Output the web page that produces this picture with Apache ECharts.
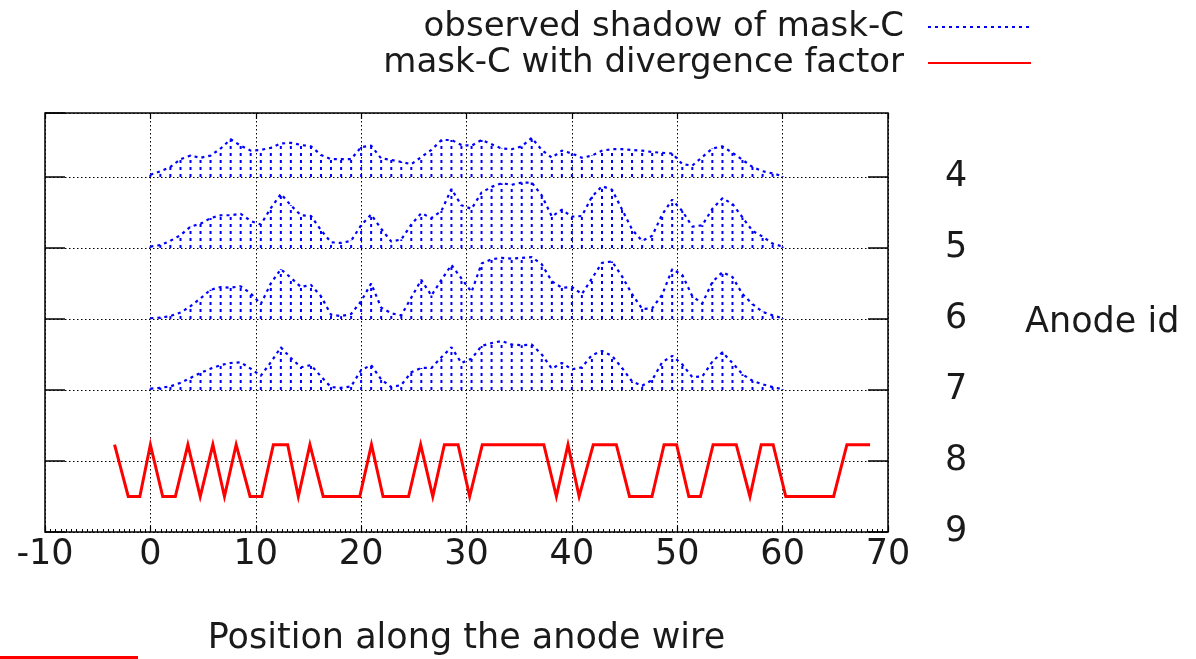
<!DOCTYPE html>
<html>
<head>
<meta charset="utf-8">
<script src="https://cdn.jsdelivr.net/npm/echarts@6/dist/echarts.min.js"></script>
<style>
html,body{margin:0;padding:0;background:#fff;}
#chart{width:1196px;height:659px;}
</style>
</head>
<body>
<div id="chart"></div>
<script>
// Positions along the anode wire of the observed shadow samples
const positions = [0, 0.95, 1.9, 2.86, 3.81, 4.76, 5.71, 6.67, 7.62, 8.57,
  9.52, 10.48, 11.43, 12.38, 13.33, 14.29, 15.24, 16.19, 17.14, 18.1,
  19.05, 20, 20.95, 21.9, 22.86, 23.81, 24.76, 25.71, 26.67, 27.62,
  28.57, 29.52, 30.48, 31.43, 32.38, 33.33, 34.29, 35.24, 36.19, 37.14,
  38.1, 39.05, 40, 40.95, 41.9, 42.86, 43.81, 44.76, 45.71, 46.67,
  47.62, 48.57, 49.52, 50.48, 51.43, 52.38, 53.33, 54.29, 55.24, 56.19,
  57.14, 58.1, 59.05, 60];

// Observed shadow height above each anode's baseline
const anode4 = [0.03, 0.08, 0.14, 0.25, 0.30, 0.27, 0.30, 0.40, 0.53, 0.44,
  0.37, 0.38, 0.41, 0.47, 0.48, 0.45, 0.43, 0.31, 0.25, 0.25,
  0.25, 0.42, 0.44, 0.26, 0.24, 0.21, 0.18, 0.28, 0.38, 0.52,
  0.52, 0.45, 0.44, 0.52, 0.46, 0.40, 0.39, 0.43, 0.55, 0.38,
  0.27, 0.37, 0.33, 0.27, 0.30, 0.37, 0.39, 0.39, 0.38, 0.37,
  0.35, 0.34, 0.33, 0.18, 0.16, 0.28, 0.40, 0.43, 0.34, 0.24,
  0.14, 0.08, 0.05, 0.01];
const anode5 = [0.02, 0.04, 0.10, 0.18, 0.30, 0.34, 0.42, 0.46, 0.46, 0.48,
  0.38, 0.33, 0.56, 0.76, 0.60, 0.46, 0.45, 0.25, 0.08, 0.07,
  0.10, 0.32, 0.47, 0.27, 0.09, 0.12, 0.33, 0.49, 0.42, 0.52,
  0.83, 0.60, 0.55, 0.78, 0.86, 0.91, 0.89, 0.92, 0.92, 0.74,
  0.44, 0.54, 0.44, 0.45, 0.72, 0.87, 0.82, 0.54, 0.26, 0.10,
  0.17, 0.47, 0.68, 0.52, 0.30, 0.32, 0.55, 0.70, 0.62, 0.43,
  0.24, 0.16, 0.06, 0.02];
const anode6 = [0.01, 0.02, 0.04, 0.09, 0.18, 0.29, 0.41, 0.45, 0.44, 0.46,
  0.36, 0.21, 0.50, 0.70, 0.58, 0.45, 0.48, 0.32, 0.06, 0.04,
  0.07, 0.25, 0.50, 0.16, 0.08, 0.05, 0.30, 0.55, 0.33, 0.55,
  0.76, 0.57, 0.38, 0.78, 0.84, 0.86, 0.85, 0.86, 0.87, 0.77,
  0.53, 0.44, 0.45, 0.35, 0.57, 0.79, 0.81, 0.60, 0.35, 0.14,
  0.15, 0.34, 0.70, 0.62, 0.32, 0.22, 0.52, 0.66, 0.59, 0.35,
  0.21, 0.10, 0.05, 0.01];
const anode7 = [0.02, 0.03, 0.05, 0.10, 0.17, 0.24, 0.30, 0.35, 0.38, 0.39,
  0.30, 0.20, 0.39, 0.60, 0.45, 0.32, 0.35, 0.19, 0.04, 0.03,
  0.05, 0.28, 0.35, 0.15, 0.04, 0.07, 0.25, 0.31, 0.31, 0.46,
  0.60, 0.38, 0.44, 0.62, 0.66, 0.69, 0.64, 0.63, 0.64, 0.50,
  0.30, 0.38, 0.29, 0.32, 0.49, 0.55, 0.48, 0.31, 0.12, 0.06,
  0.14, 0.39, 0.48, 0.36, 0.18, 0.19, 0.40, 0.53, 0.38, 0.22,
  0.13, 0.08, 0.04, 0.01];
const anodeIds = [4, 5, 6, 7];
const profiles = [anode4, anode5, anode6, anode7];

// mask-C with divergence factor (corner points)
const maskX = [-3.4, -2.1, -1.0, 0, 1.17, 2.37, 3.56, 4.73, 5.93, 7.03,
  8.14, 9.46, 10.57, 11.67, 13.03, 14.04, 15.14, 16.4, 19.87, 20.98,
  22.08, 24.5, 25.65, 26.8, 27.9, 29.2, 30.3, 31.5, 37.34, 38.53,
  39.63, 40.69, 42.03, 44.22, 45.47, 47.6, 48.75, 49.94, 51.1, 52.2,
  53.4, 55.6, 56.9, 57.97, 59.1, 60.3, 64.84, 66.1, 68.3];
const maskY = [7.77, 8.5, 8.5, 7.77, 8.5, 8.5, 7.77, 8.5, 7.77, 8.5,
  7.77, 8.5, 8.5, 7.77, 7.77, 8.5, 7.77, 8.5, 8.5, 7.77,
  8.5, 8.5, 7.77, 8.5, 7.77, 7.77, 8.5, 7.77, 7.77, 8.5,
  7.77, 8.5, 7.77, 7.77, 8.5, 8.5, 7.77, 7.77, 8.5, 8.5,
  7.77, 7.77, 8.5, 7.77, 7.77, 8.5, 8.5, 7.77, 7.77];

const xTicks = { min: -10, max: 70, interval: 10 };
const yRange = { min: 3.1, max: 9 };

const NAME_OBS = 'observed shadow of mask-C';
const NAME_MASK = 'mask-C with divergence factor';
const FONT = 'DejaVu Sans';
const TXT = '#1a1a1a';
const BLUE = '#0000ff';
const RED = '#ff0000';

const series = [];
const impulseData = [];
anodeIds.forEach(function (id, i) {
  const prof = profiles[i];
  series.push({
    name: NAME_OBS,
    type: 'line',
    symbol: 'none',
    silent: true,
    animation: false,
    lineStyle: { color: BLUE, width: 2.2, type: [3, 4] },
    itemStyle: { color: BLUE },
    data: positions.map(function (x, k) { return [x, id - prof[k]]; }),
    z: 3
  });
  positions.forEach(function (x, k) { impulseData.push([x, id, id - prof[k]]); });
});
series.push({
  name: 'impulses',
  type: 'custom',
  silent: true,
  animation: false,
  z: 3,
  renderItem: function (params, api) {
    const p0 = api.coord([api.value(0), api.value(1)]);
    const p1 = api.coord([api.value(0), api.value(2)]);
    return {
      type: 'line',
      shape: { x1: p0[0], y1: p0[1], x2: p1[0], y2: p1[1] },
      style: { stroke: BLUE, lineWidth: 2, lineDash: [3, 4] }
    };
  },
  data: impulseData
});
series.push({
  name: NAME_MASK,
  type: 'line',
  symbol: 'none',
  silent: true,
  animation: false,
  lineStyle: { color: RED, width: 3, join: 'miter', miterLimit: 10 },
  itemStyle: { color: RED },
  data: maskX.map(function (x, k) { return [x, maskY[k]]; }),
  z: 4
});

const dotted = { color: '#000', width: 1, type: [1.5, 2.5] };

const option = {
  backgroundColor: '#fff',
  animation: false,
  grid: {
    left: 45, right: 308, top: 113, bottom: 127,
    show: true, borderColor: '#000', borderWidth: 1.5,
    containLabel: false, outerBoundsMode: 'none'
  },
  legend: {
    data: [NAME_OBS, NAME_MASK],
    orient: 'vertical',
    align: 'right',
    right: 159,
    top: 5,
    itemWidth: 103,
    itemHeight: 2,
    itemGap: 2,
    selectedMode: false,
    itemStyle: { opacity: 0 },
    textStyle: { fontSize: 34, fontFamily: FONT, color: TXT, lineHeight: 34, padding: [0, 19, 0, 0] }
  },
  xAxis: [{
    type: 'value',
    position: 'bottom',
    min: xTicks.min, max: xTicks.max, interval: xTicks.interval,
    name: 'Position along the anode wire',
    nameLocation: 'middle',
    nameGap: 89,
    nameTextStyle: { fontSize: 35, fontFamily: FONT, color: TXT },
    axisLine: { show: false, onZero: false },
    axisTick: { show: true, inside: true, length: 6, lineStyle: { color: '#000', width: 1.2 } },
    minorTick: { show: true, splitNumber: 20, length: 3, lineStyle: { color: '#000', width: 1 } },
    axisLabel: { fontSize: 35, fontFamily: FONT, color: TXT, margin: 5 },
    splitLine: { show: true, lineStyle: dotted }
  }, {
    type: 'value',
    position: 'top',
    min: xTicks.min, max: xTicks.max, interval: xTicks.interval,
    axisLine: { show: false, onZero: false },
    axisTick: { show: true, inside: true, length: 6, lineStyle: { color: '#000', width: 1.2 } },
    axisLabel: { show: false },
    splitLine: { show: false }
  }],
  yAxis: [{
    type: 'value',
    position: 'right',
    inverse: true,
    min: yRange.min, max: yRange.max,
    splitNumber: 6,
    name: 'Anode id',
    nameLocation: 'middle',
    nameRotate: 0,
    nameGap: 137,
    nameTextStyle: { fontSize: 35, fontFamily: FONT, color: TXT, align: 'left', verticalAlign: 'middle' },
    axisLine: { show: false, onZero: false },
    axisTick: { show: true, inside: true, length: 20, lineStyle: { color: '#000', width: 1.5 } },
    axisLabel: { fontSize: 35, fontFamily: FONT, color: TXT, margin: 57, showMinLabel: false, showMaxLabel: true },
    splitLine: { show: true, lineStyle: dotted }
  }, {
    type: 'value',
    position: 'left',
    inverse: true,
    min: yRange.min, max: yRange.max,
    splitNumber: 6,
    axisLine: { show: false, onZero: false },
    axisTick: { show: true, inside: true, length: 20, lineStyle: { color: '#000', width: 1.5 } },
    axisLabel: { show: false },
    splitLine: { show: false }
  }],
  graphic: [{
    type: 'rect',
    silent: true,
    shape: { x: 0, y: 656, width: 138, height: 3 },
    style: { fill: RED }
  }],
  series: series
};

const chart = echarts.init(document.getElementById('chart'), null, { renderer: 'canvas' });
chart.setOption(option);
</script>
</body>
</html>
